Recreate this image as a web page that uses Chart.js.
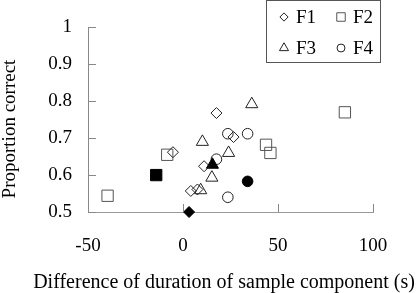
<!DOCTYPE html>
<html>
<head>
<meta charset="utf-8">
<script src="https://cdn.jsdelivr.net/npm/chart.js@4/dist/chart.umd.min.js"></script>
<style>
  html, body { margin: 0; padding: 0; background: #fff; }
  #wrap { width: 418px; height: 293px; position: relative; }
</style>
</head>
<body>
<div id="wrap"><canvas id="chart"></canvas></div>
<script>
// ---------------------------------------------------------------------------
// data (x = difference of duration, y = proportion correct)
// ---------------------------------------------------------------------------
const seriesNames = ['F1', 'F2', 'F3', 'F4'];

const f1X = [17.6, 26.6, -5.3, 11.1, 4.1, 7.6, 3.2];
const f1Y = [0.768, 0.703, 0.662, 0.624, 0.557, 0.561, 0.500];
const f1Filled = [6];

const f2X = [85.2, 43.7, 46.0, -8.3, -39.7, -14.1];
const f2Y = [0.770, 0.682, 0.660, 0.655, 0.544, 0.600];
const f2Filled = [5];

const f3X = [36.2, 10.2, 24.0, 15.2, 9.3, 15.5];
const f3Y = [0.792, 0.690, 0.660, 0.593, 0.559, 0.628];
const f3Filled = [5];

const f4X = [23.6, 34.0, 17.6, 23.6, 34.0];
const f4Y = [0.712, 0.712, 0.643, 0.540, 0.583];
const f4Filled = [4];

const xTicks = [-50, 0, 50, 100];
const yTicks = [0.5, 0.6, 0.7, 0.8, 0.9, 1];

const xTitle = 'Difference of duration of sample component (s)';
const yTitle = 'Proportion correct';

const FONT = 'Liberation Serif, Times New Roman, serif';

function makeSet(label, xs, ys, filled, style, radius, stroke) {
    return {
        label: label,
        data: xs.map((x, i) => ({ x: x, y: ys[i] })),
        pointStyle: style,
        pointRadius: radius,
        pointHoverRadius: radius,
        borderWidth: 1,
        pointBorderColor: xs.map((x, i) => filled.includes(i) ? '#000' : stroke),
        pointBackgroundColor: xs.map((x, i) => filled.includes(i) ? '#000' : 'rgba(255,255,255,0)'),
        showLine: false,
        clip: false
    };
}

const styles = [
    { style: 'rectRot', radius: 5.5, stroke: '#222' },
    { style: 'rect', radius: 8, stroke: '#555' },
    { style: 'triangle', radius: 7, stroke: '#222' },
    { style: 'circle', radius: 5.3, stroke: '#222' }
];

// tick marks pointing into the plot
const innerTicks = {
    id: 'innerTicks',
    afterDraw(chart) {
        const { ctx, scales: { x, y } } = chart;
        ctx.save();
        ctx.strokeStyle = '#888';
        ctx.lineWidth = 1;
        ctx.beginPath();
        yTicks.forEach(v => {
            const py = Math.round(y.getPixelForValue(v)) + 0.5;
            ctx.moveTo(x.left, py);
            ctx.lineTo(x.left + 8, py);
        });
        xTicks.forEach(v => {
            const px = Math.round(x.getPixelForValue(v)) + 0.5;
            ctx.moveTo(px, y.bottom);
            ctx.lineTo(px, y.bottom - 8);
        });
        ctx.stroke();
        ctx.restore();
    }
};

// axis titles (the x one is wider than the plot, so chart.js would squeeze it)
const axisTitles = {
    id: 'axisTitles',
    afterDraw(chart) {
        const ctx = chart.ctx;
        ctx.save();
        ctx.fillStyle = '#000';
        ctx.textAlign = 'center';
        ctx.textBaseline = 'alphabetic';
        ctx.font = '20px ' + FONT;
        ctx.fillText(xTitle, 224, 288);
        ctx.font = '19px ' + FONT;
        ctx.translate(10, 129);
        ctx.rotate(-Math.PI / 2);
        ctx.textBaseline = 'middle';
        ctx.fillText(yTitle, 0, 0);
        ctx.restore();
    }
};

// boxed 2x2 legend in the upper right corner
const boxLegend = {
    id: 'boxLegend',
    afterDraw(chart) {
        const ctx = chart.ctx;
        ctx.save();
        ctx.strokeStyle = '#555';
        ctx.lineWidth = 1;
        ctx.strokeRect(266.5, 0.5, 114, 62);
        const cells = [[284, 17], [341, 17], [284, 48], [341, 48]];
        seriesNames.forEach((name, i) => {
            const [cx, cy] = cells[i];
            ctx.strokeStyle = styles[i].stroke;
            ctx.fillStyle = 'rgba(255,255,255,0)';
            Chart.helpers.drawPoint(ctx, {
                pointStyle: styles[i].style,
                radius: styles[i].radius * 0.75,
                rotation: 0,
                borderWidth: 1
            }, cx, cy);
            ctx.fillStyle = '#000';
            ctx.font = '19px ' + FONT;
            ctx.textAlign = 'left';
            ctx.textBaseline = 'middle';
            ctx.fillText(name, cx + 12, cy + 1);
        });
        ctx.restore();
    }
};

const ctx = document.getElementById('chart').getContext('2d');
new Chart(ctx, {
    type: 'scatter',
    data: {
        datasets: [
            makeSet(seriesNames[0], f1X, f1Y, f1Filled, styles[0].style, styles[0].radius, styles[0].stroke),
            makeSet(seriesNames[1], f2X, f2Y, f2Filled, styles[1].style, styles[1].radius, styles[1].stroke),
            makeSet(seriesNames[2], f3X, f3Y, f3Filled, styles[2].style, styles[2].radius, styles[2].stroke),
            makeSet(seriesNames[3], f4X, f4Y, f4Filled, styles[3].style, styles[3].radius, styles[3].stroke)
        ]
    },
    options: {
        responsive: true,
        maintainAspectRatio: false,
        animation: false,
        layout: { padding: { left: 0, right: 45, top: 18, bottom: 0 } },
        plugins: {
            legend: { display: false },
            tooltip: { enabled: false }
        },
        scales: {
            x: {
                type: 'linear',
                min: -50,
                max: 100,
                afterBuildTicks: s => { s.ticks = xTicks.map(v => ({ value: v })); },
                afterFit: s => { s.height = 81; },
                grid: { display: false, drawTicks: false },
                border: { display: true, color: '#999', width: 1 },
                ticks: {
                    color: '#000',
                    padding: 23,
                    font: { family: FONT, size: 19 }
                }
            },
            y: {
                type: 'linear',
                min: 0.5,
                max: 1,
                afterBuildTicks: s => { s.ticks = yTicks.map(v => ({ value: v })); },
                afterFit: s => { s.width = 88; },
                grid: { display: false, drawTicks: false },
                border: { display: true, color: '#888', width: 1 },
                ticks: {
                    color: '#000',
                    padding: 16,
                    font: { family: FONT, size: 19 },
                    callback: v => String(v)
                }
            }
        }
    },
    plugins: [innerTicks, axisTitles, boxLegend]
});
</script>
</body>
</html>
